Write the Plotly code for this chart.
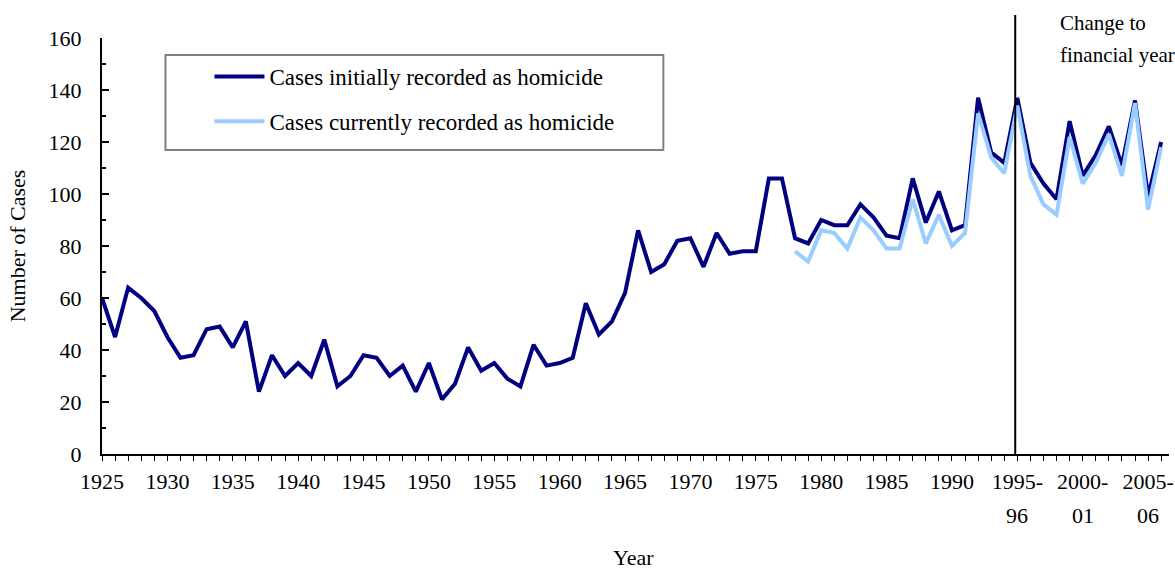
import plotly.graph_objects as go

# ---- data ----
years = ["1925", "1926", "1927", "1928", "1929", "1930", "1931", "1932", "1933", "1934",
         "1935", "1936", "1937", "1938", "1939", "1940", "1941", "1942", "1943", "1944",
         "1945", "1946", "1947", "1948", "1949", "1950", "1951", "1952", "1953", "1954",
         "1955", "1956", "1957", "1958", "1959", "1960", "1961", "1962", "1963", "1964",
         "1965", "1966", "1967", "1968", "1969", "1970", "1971", "1972", "1973", "1974",
         "1975", "1976", "1977", "1978", "1979", "1980", "1981", "1982", "1983", "1984",
         "1985", "1986", "1987", "1988", "1989", "1990", "1991", "1992", "1993", "1994",
         "1995-96", "1996-97", "1997-98", "1998-99", "1999-00", "2000-01", "2001-02",
         "2002-03", "2003-04", "2004-05", "2005-06", "2006-07"]

initially_recorded = [60, 45, 64, 60, 55, 45, 37, 38, 48, 49,
                      41, 51, 24, 38, 30, 35, 30, 44, 26, 30,
                      38, 37, 30, 34, 24, 35, 21, 27, 41, 32,
                      35, 29, 26, 42, 34, 35, 37, 58, 46, 51,
                      62, 86, 70, 73, 82, 83, 72, 85, 77, 78,
                      78, 106, 106, 83, 81, 90, 88, 88, 96, 91,
                      84, 83, 106, 89, 101, 86, 88, 137, 116, 112,
                      137, 112, 104, 98, 128, 107, 115, 126, 111, 136,
                      99, 120]

currently_recorded = [None] * 53 + [78, 74, 86, 85, 79, 91, 86,
                                     79, 79, 98, 81, 92, 80, 85, 131, 114, 108,
                                     134, 107, 96, 92, 122, 104, 112, 123, 107, 135,
                                     94, 118]

tick_labels = ["1925", "1930", "1935", "1940", "1945", "1950", "1955", "1960",
               "1965", "1970", "1975", "1980", "1985", "1990", "1995-", "2000-", "2005-"]
tick_labels_line2 = ["96", "01", "06"]

legend_names = ["Cases initially recorded as homicide", "Cases currently recorded as homicide"]

# ---- layout geometry (page pixels) ----
W, H = 1175, 569
L, T = 101.5, 38
PX_PER_IDX = 13.08
X_MAX = 81.6
PW = X_MAX * PX_PER_IDX
PH = 416
B = H - (T + PH)
R = W - (L + PW)

def xp(px):
    return (px - L) / PW

def yp(py):
    return (T + PH - py) / PH

FONT = "Liberation Serif, Times New Roman, serif"
x_idx = list(range(len(years)))

fig = go.Figure()
fig.add_trace(go.Scatter(
    x=x_idx, y=initially_recorded, mode="lines", name=legend_names[0],
    line=dict(color="#000080", width=4), legendgroup="a",
    customdata=years, hovertemplate="%{customdata}: %{y}<extra></extra>"))
fig.add_trace(go.Scatter(
    x=x_idx, y=currently_recorded, mode="lines", name=legend_names[1],
    line=dict(color="#99CCFF", width=4), legendgroup="b",
    customdata=years, hovertemplate="%{customdata}: %{y}<extra></extra>"))

tickvals = list(range(0, len(years), 5))

fig.update_layout(
    width=W, height=H,
    margin=dict(l=L, r=R, t=T, b=B, autoexpand=False),
    paper_bgcolor="white", plot_bgcolor="white",
    font=dict(family=FONT, size=22, color="black"),
    showlegend=True,
    legend=dict(
        x=xp(209), y=yp(55), xanchor="left", yanchor="top",
        bgcolor="rgba(0,0,0,0)", borderwidth=0,
        font=dict(family=FONT, size=23, color="black"),
        traceorder="grouped", tracegroupgap=12, itemwidth=50,
    ),
    xaxis=dict(
        range=[0, X_MAX], showgrid=False, zeroline=False,
        showline=True, linecolor="black", linewidth=2,
        tickmode="array", tickvals=tickvals, ticktext=tick_labels,
        ticks="outside", ticklen=5, tickwidth=1, tickcolor="black",
        minor=dict(tickmode="linear", tick0=0, dtick=1, ticks="outside",
                   ticklen=5, tickwidth=1, tickcolor="black"),
        ticklabelstandoff=2,
        tickfont=dict(family=FONT, size=22),
    ),
    yaxis=dict(
        range=[0, 160], showgrid=False, zeroline=False,
        showline=True, linecolor="black", linewidth=2,
        tickmode="linear", tick0=0, dtick=20,
        ticks="inside", ticklen=7, tickwidth=2, tickcolor="black",
        minor=dict(tickmode="linear", tick0=0, dtick=10, ticks="inside",
                   ticklen=4, tickwidth=2, tickcolor="black"),
        ticklabelstandoff=14,
        tickfont=dict(family=FONT, size=22),
        title=dict(text="Number of Cases", standoff=17, font=dict(family=FONT, size=22)),
    ),
)

# x-axis title placed as text below the two-line tick labels
fig.add_annotation(text="Year", xref="paper", yref="paper",
                   x=xp(633), y=yp(557), xanchor="center", yanchor="middle",
                   showarrow=False, font=dict(family=FONT, size=22, color="black"))

# legend frame
fig.add_shape(type="rect", xref="paper", yref="paper",
              x0=xp(165), x1=xp(663), y0=yp(150), y1=yp(55),
              line=dict(color="#808080", width=2), fillcolor="white", layer="below")

# vertical "change to financial year" marker (between 1994 and 1995-96)
fig.add_shape(type="line", xref="x", yref="paper",
              x0=69.84, x1=69.84, y0=0, y1=yp(15),
              line=dict(color="black", width=2))

fig.add_annotation(text="Change to", xref="paper", yref="paper",
                   x=xp(1058), y=yp(23), xanchor="left", yanchor="middle",
                   showarrow=False, font=dict(family=FONT, size=21, color="black"))
fig.add_annotation(text="financial year", xref="paper", yref="paper",
                   x=xp(1058), y=yp(55), xanchor="left", yanchor="middle",
                   showarrow=False, font=dict(family=FONT, size=21, color="black"))

for v, t in zip(tickvals[-3:], tick_labels_line2):
    fig.add_annotation(text=t, xref="x", yref="paper", x=v, y=yp(515),
                       xanchor="center", yanchor="middle", showarrow=False,
                       font=dict(family=FONT, size=22, color="black"))

fig.write_html(
    "out.html",
    config={"displayModeBar": False},
    post_script="document.body.style.margin='0';document.body.style.overflow='hidden';",
)
